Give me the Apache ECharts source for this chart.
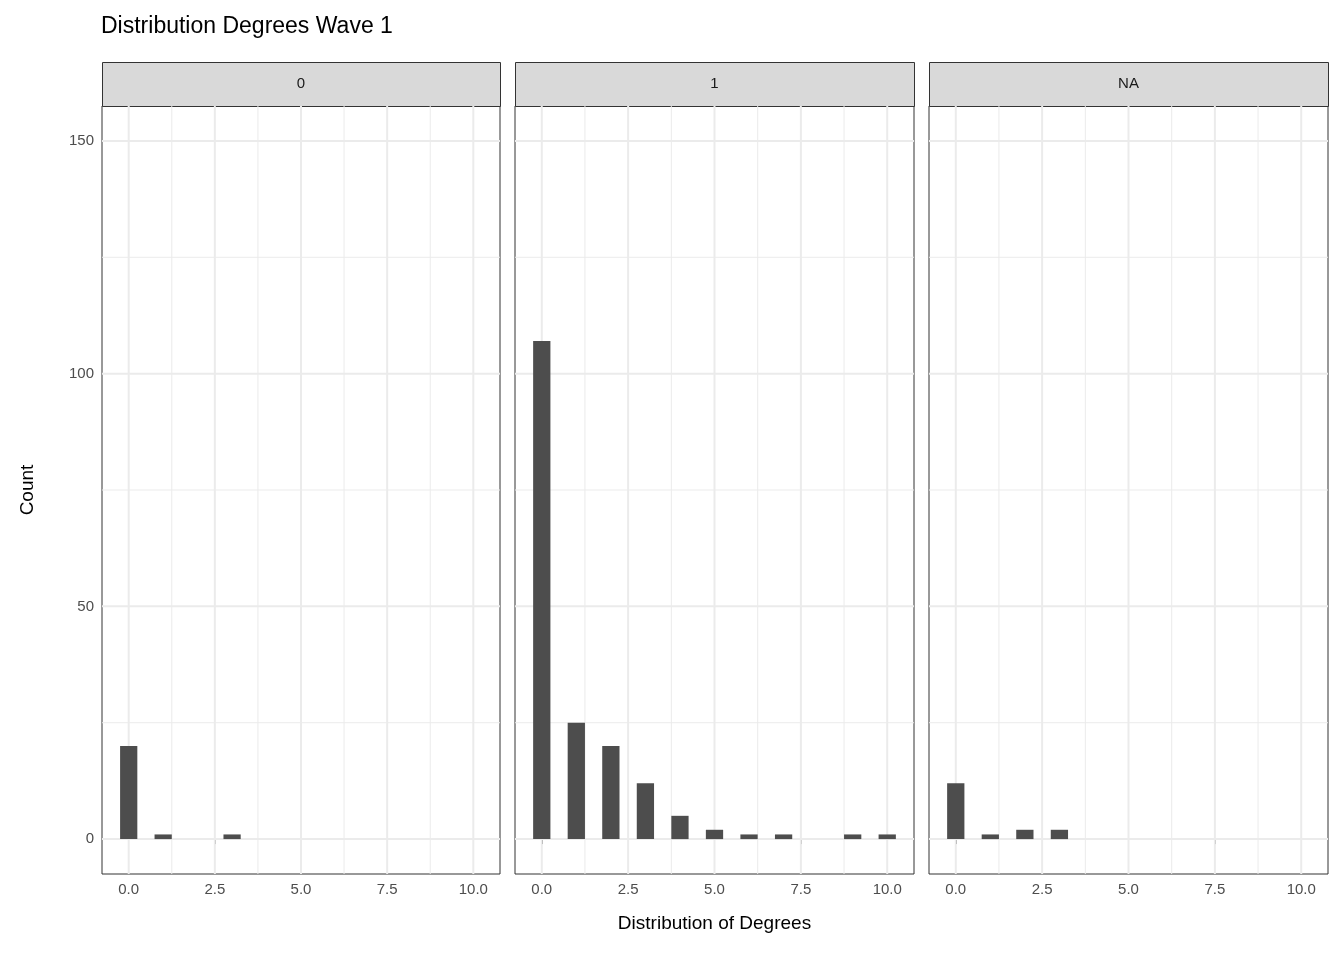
<!DOCTYPE html>
<html><head><meta charset="utf-8">
<script src="https://cdn.jsdelivr.net/npm/echarts@6/dist/echarts.min.js"></script>
<style>html,body{margin:0;padding:0;background:#fff}#c{width:1344px;height:960px}</style>
</head><body><div id="c"></div>
<script>
const facets = ['0', '1', 'NA'];
const degrees0 = [0, 1, 3];
const counts0 = [20, 1, 1];
const degrees1 = [0, 1, 2, 3, 4, 5, 6, 7, 9, 10];
const counts1 = [107, 25, 20, 12, 5, 2, 1, 1, 1, 1];
const degreesNA = [0, 1, 2, 3];
const countsNA = [12, 1, 2, 2];
const xTicks = [0, 2.5, 5, 7.5, 10];
const yTicks = [0, 50, 100, 150];

const sets = [[degrees0, counts0], [degrees1, counts1], [degreesNA, countsNA]];
const lefts = [102, 515, 929], widths = [398, 399, 399], gTop = 106, gHeight = 768;
const font = 'Liberation Sans, Arial, sans-serif';
const grids = [], xAxes = [], yAxes = [], series = [], graphics = [];
sets.forEach((s, i) => {
  grids.push({left: lefts[i], top: gTop, width: widths[i], height: gHeight, show: true, borderColor: '#333', borderWidth: 1, backgroundColor: '#fff'});
  xAxes.push({type: 'value', gridIndex: i, min: -0.775, max: 10.775,
    axisLine: {show: false},
    axisTick: {show: true, length: 5, lineStyle: {color: '#333'}, customValues: xTicks},
    axisLabel: {color: '#4d4d4d', fontSize: 15, fontFamily: font, margin: 8,
      customValues: xTicks, formatter: v => Number(v).toFixed(1)},
    splitLine: {show: false},
    name: i === 1 ? 'Distribution of Degrees' : '', nameLocation: 'middle', nameGap: 40,
    nameTextStyle: {fontSize: 19, color: '#000', fontFamily: font}});
  yAxes.push({type: 'value', gridIndex: i, min: -7.5, max: 157.5,
    axisLine: {show: false},
    axisTick: {show: i === 0, length: 5, lineStyle: {color: '#333'}, customValues: yTicks},
    axisLabel: {show: i === 0, color: '#4d4d4d', fontSize: 15, fontFamily: font, customValues: yTicks, margin: 8},
    splitLine: {show: false},
    name: i === 0 ? 'Count' : '', nameLocation: 'middle', nameGap: 65, nameRotate: 90,
    nameTextStyle: {fontSize: 19, color: '#000', fontFamily: font}});
  const minX = [1.25, 3.75, 6.25, 8.75];
  const minY = [25, 75, 125];
  series.push({type: 'custom', xAxisIndex: i, yAxisIndex: i, silent: true, z: 1,
    data: [[0, 0]], renderItem: (p, api) => {
      const ch = [];
      const mk = (a, b, w) => ({type: 'line', shape: {x1: a[0], y1: a[1], x2: b[0], y2: b[1]}, style: {stroke: '#ebebeb', lineWidth: w}});
      minX.forEach(v => ch.push(mk(api.coord([v, -7.5]), api.coord([v, 157.5]), 1)));
      minY.forEach(v => ch.push(mk(api.coord([-0.775, v]), api.coord([10.775, v]), 1)));
      xTicks.forEach(v => ch.push(mk(api.coord([v, -7.5]), api.coord([v, 157.5]), 2)));
      yTicks.forEach(v => ch.push(mk(api.coord([-0.775, v]), api.coord([10.775, v]), 2)));
      return {type: 'group', children: ch};
    }});
  series.push({type: 'custom', xAxisIndex: i, yAxisIndex: i, z: 2,
    data: s[0].map((d, k) => [d, s[1][k]]),
    renderItem: (p, api) => {
      const x = api.value(0), y = api.value(1);
      const a = api.coord([x - 0.25, y]), b = api.coord([x + 0.25, 0]);
      return {type: 'rect', shape: {x: a[0], y: a[1], width: b[0] - a[0], height: b[1] - a[1]}, style: {fill: '#4d4d4d'}};
    }});
  graphics.push({type: 'rect', left: lefts[i], top: 62, shape: {width: widths[i], height: 44},
    style: {fill: '#d9d9d9', stroke: '#333', lineWidth: 1}});
  graphics.push({type: 'text', x: lefts[i] + widths[i] / 2, y: 84,
    style: {text: facets[i], fill: '#1a1a1a', fontSize: 15, fontFamily: font, align: 'center', verticalAlign: 'middle'}});
});
const chart = echarts.init(document.getElementById('c'));
chart.setOption({
  animation: false,
  title: {text: 'Distribution Degrees Wave 1', left: 96, top: 10, textStyle: {fontSize: 23, fontWeight: 'normal', color: '#000', fontFamily: font}},
  grid: grids, xAxis: xAxes, yAxis: yAxes, series: series, graphic: graphics
});
</script></body></html>
